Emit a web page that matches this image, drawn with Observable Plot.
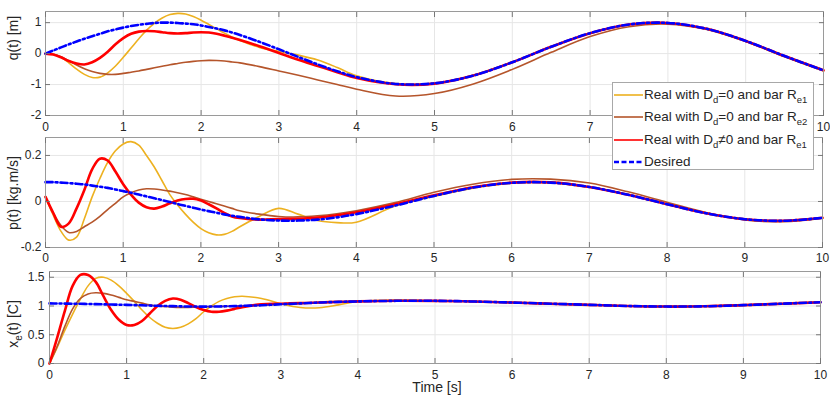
<!DOCTYPE html>
<html><head><meta charset="utf-8">
<script src="https://cdn.jsdelivr.net/npm/d3@7"></script>
<script src="https://cdn.jsdelivr.net/npm/@observablehq/plot@0.6"></script>
<style>
body{margin:0;background:#fff;font-family:"Liberation Sans",Arial,sans-serif;}
#wrap{position:relative;width:830px;height:395px;overflow:hidden;}
#wrap svg{display:block;}
.legend{position:absolute;left:612px;top:82px;width:200px;height:86px;border:1px solid #a8a8a8;background:#fff;font-size:13.5px;color:#262626;}
.row{position:absolute;left:0;height:22px;line-height:22px;white-space:nowrap;}
.row svg{position:absolute;left:1px;top:9px;}
.row span.t{position:absolute;left:31px;top:0;}
.row sub{font-size:9.5px;vertical-align:-4px;line-height:0;}
</style>
</head><body>
<div id="wrap"></div>
<script>
// time samples [s]
const t = [0,0.1,0.2,0.3,0.4,0.5,0.6,0.7,0.8,0.9,1.0,1.1,1.2,1.3,1.4,1.5,1.6,1.7,1.8,1.9,2.0,2.1,2.2,2.3,2.4,2.5,2.75,3,3.25,3.5,3.75,4,4.5,5,5.5,6,6.5,7,7.5,8,8.5,9,9.5,10];

// q(t) [m]
const qYellow = [0,-0.02,-0.12,-0.3,-0.5,-0.67,-0.77,-0.76,-0.62,-0.4,-0.12,0.18,0.48,0.76,0.98,1.15,1.26,1.3,1.28,1.2,1.08,0.94,0.8,0.66,0.53,0.42,0.2,0.07,-0.05,-0.21,-0.45,-0.72,-0.97,-0.96,-0.7,-0.27,0.22,0.66,0.94,0.99,0.8,0.41,-0.08,-0.54];
const qBrown = [0,-0.02,-0.1,-0.23,-0.37,-0.49,-0.58,-0.64,-0.67,-0.67,-0.64,-0.6,-0.56,-0.51,-0.46,-0.41,-0.36,-0.32,-0.28,-0.25,-0.23,-0.22,-0.225,-0.24,-0.27,-0.3,-0.42,-0.56,-0.7,-0.85,-1.0,-1.15,-1.37,-1.29,-0.98,-0.51,0.04,0.55,0.87,0.95,0.78,0.39,-0.1,-0.56];
const qRed = [0,-0.03,-0.12,-0.24,-0.32,-0.35,-0.28,-0.14,0.06,0.3,0.5,0.64,0.71,0.73,0.72,0.69,0.66,0.65,0.66,0.68,0.69,0.68,0.64,0.58,0.51,0.44,0.24,0.02,-0.2,-0.4,-0.6,-0.79,-0.99,-0.97,-0.71,-0.28,0.22,0.66,0.94,0.99,0.8,0.41,-0.08,-0.54];
const qDesired = [0,0.10,0.20,0.30,0.39,0.48,0.56,0.64,0.72,0.78,0.84,0.89,0.93,0.96,0.99,1.0,1.0,0.99,0.97,0.95,0.91,0.86,0.81,0.75,0.68,0.60,0.38,0.14,-0.11,-0.35,-0.57,-0.76,-0.98,-0.96,-0.71,-0.28,0.22,0.66,0.94,0.99,0.80,0.41,-0.08,-0.54];

// p(t) [kg.m/s]
const pYellow = [0.02,-0.06,-0.13,-0.168,-0.155,-0.075,0.02,0.1,0.17,0.22,0.25,0.26,0.245,0.2,0.15,0.09,0.03,-0.015,-0.055,-0.09,-0.118,-0.136,-0.145,-0.143,-0.13,-0.11,-0.065,-0.03,-0.055,-0.083,-0.092,-0.09,-0.02,0.022,0.058,0.079,0.081,0.062,0.029,-0.012,-0.051,-0.077,-0.084,-0.071];
const pBrown = [0.02,-0.05,-0.105,-0.135,-0.13,-0.11,-0.09,-0.065,-0.035,-0.008,0.02,0.038,0.05,0.055,0.054,0.05,0.045,0.038,0.03,0.02,0.01,0.0,-0.01,-0.02,-0.03,-0.04,-0.055,-0.065,-0.067,-0.062,-0.053,-0.04,-0.005,0.04,0.075,0.096,0.097,0.08,0.042,-0.003,-0.048,-0.08,-0.088,-0.073];
const pRed = [0.02,-0.05,-0.11,-0.095,-0.03,0.05,0.14,0.186,0.178,0.13,0.075,0.03,-0.005,-0.025,-0.031,-0.022,-0.008,0.004,0.011,0.012,0.004,-0.012,-0.03,-0.05,-0.065,-0.072,-0.079,-0.076,-0.075,-0.07,-0.06,-0.047,-0.012,0.027,0.062,0.082,0.083,0.063,0.029,-0.012,-0.051,-0.077,-0.084,-0.071];
const pDesired = [0.084,0.084,0.082,0.080,0.077,0.074,0.069,0.064,0.059,0.052,0.045,0.038,0.030,0.022,0.014,0.006,-0.002,-0.011,-0.019,-0.027,-0.035,-0.042,-0.049,-0.056,-0.062,-0.067,-0.078,-0.083,-0.083,-0.079,-0.069,-0.055,-0.018,0.024,0.060,0.081,0.082,0.063,0.029,-0.012,-0.051,-0.077,-0.084,-0.071];

// x_e(t) [C]
const xYellow = [0,0.28,0.58,0.86,1.12,1.35,1.48,1.5,1.45,1.35,1.22,1.08,0.93,0.8,0.7,0.63,0.61,0.63,0.69,0.78,0.9,1.0,1.08,1.13,1.16,1.17,1.13,1.04,0.975,0.97,1.02,1.08,1.105,1.09,1.078,1.06,1.04,1.02,1.0,0.99,0.995,1.015,1.04,1.065];
const xBrown = [0,0.3,0.65,0.95,1.13,1.21,1.23,1.22,1.19,1.15,1.11,1.08,1.05,1.02,1.0,0.99,0.98,0.975,0.975,0.98,0.985,0.99,0.992,0.995,0.998,1.0,1.013,1.03,1.045,1.06,1.072,1.08,1.09,1.09,1.078,1.06,1.04,1.02,1.0,0.99,0.995,1.015,1.04,1.065];
const xRed = [0,0.45,0.92,1.35,1.54,1.54,1.42,1.17,0.93,0.76,0.67,0.67,0.74,0.87,1.0,1.09,1.13,1.11,1.05,0.98,0.93,0.9,0.9,0.92,0.95,0.98,1.03,1.04,1.05,1.06,1.072,1.08,1.09,1.09,1.078,1.06,1.04,1.02,1.0,0.99,0.995,1.015,1.04,1.065];
const xDesired = [1.045,1.044,1.042,1.04,1.038,1.035,1.032,1.029,1.026,1.023,1.02,1.016,1.012,1.008,1.004,1.0,0.997,0.994,0.991,0.99,0.99,0.99,0.992,0.995,0.998,1.002,1.013,1.03,1.045,1.06,1.072,1.08,1.09,1.09,1.078,1.06,1.04,1.02,1.0,0.99,0.995,1.015,1.04,1.065];

const xTicks = [0,1,2,3,4,5,6,7,8,9,10];
const xTicksTopPanel = [0,1,2,3,4,5,6,7,10]; // 8 and 9 are hidden under the legend
const qTicks = [-2,-1,0,1];
const pTicks = [-0.2,0,0.2];
const xeTicks = [0,0.5,1,1.5];

const seriesColors = ["#EDB120","#B5552B","#FF0000","#0000FF"];
const seriesWidths = [1.6,1.6,2.6,2.6];
const legendHTML = [
  "Real with D<sub>d</sub>=0 and bar R<sub>e1</sub>",
  "Real with D<sub>d</sub>=0 and bar R<sub>e2</sub>",
  "Real with D<sub>d</sub>&#8800;0 and bar R<sub>e1</sub>",
  "Desired"
];
const dash = "7,3,2,3";

function rows(arr){ return t.map((tt,i)=>({t:tt, v:arr[i]})); }

function panel(series, yDomain, yTicks, xLabelTicks, m){
  const fmt = d => String(d);
  const marks = [
    Plot.gridX(xTicks, {stroke:"#e6e6e6", strokeOpacity:1}),
    Plot.gridY(yTicks, {stroke:"#e6e6e6", strokeOpacity:1}),
  ];
  series.forEach((s,i)=>{
    marks.push(Plot.line(rows(s), {x:"t", y:"v", stroke:seriesColors[i], strokeWidth:seriesWidths[i], curve:"catmull-rom",
      strokeDasharray: i===3 ? dash : null}));
  });
  marks.push(
    Plot.frame({stroke:"#9a9a9a"}),
    Plot.axisX(xLabelTicks, {tickSize:0, tickPadding:m.xPad, tickFormat:fmt, label:null, fill:"#262626"}),
    Plot.axisX(xTicks, {tickSize:5, dy:-5, fill:"none", stroke:"#777", label:null}),
    Plot.axisX(xTicks, {anchor:"top", tickSize:5, dy:5, fill:"none", stroke:"#777", label:null}),
    Plot.axisY(yTicks, {tickSize:0, tickPadding:m.yPad, tickFormat:fmt, label:null, fill:"#262626"}),
    Plot.axisY(yTicks, {tickSize:5, dx:5, fill:"none", stroke:"#777", label:null}),
    Plot.axisY(yTicks, {anchor:"right", tickSize:5, dx:-5, fill:"none", stroke:"#777", label:null})
  );
  return Plot.plot({
    width:830, height:m.height,
    marginTop:m.top, marginBottom:m.bottom, marginLeft:m.left, marginRight:m.right,
    x:{domain:[0,10]}, y:{domain:yDomain},
    style:{fontFamily:"'Liberation Sans', Arial, sans-serif", fontSize:"12px", color:"#262626", background:"white", overflow:"visible"},
    marks
  });
}

const wrap = document.getElementById("wrap");
const p1 = panel([qYellow,qBrown,qRed,qDesired], [-2,1.36], qTicks, xTicksTopPanel, {height:131, top:11, bottom:16, left:45, right:7, xPad:6.5, yPad:4});
const p2 = panel([pYellow,pBrown,pRed,pDesired], [-0.2,0.278], pTicks, xTicks, {height:132, top:6, bottom:16, left:45, right:8, xPad:6, yPad:4});
const p3 = panel([xYellow,xBrown,xRed,xDesired], [0,1.6], xeTicks, xTicks, {height:132, top:8, bottom:32, left:49, right:10, xPad:6.5, yPad:5});
wrap.append(p1, p2, p3);

function ylabel(svg, x, y, parts){
  const tx = d3.select(svg).append("text")
    .attr("transform", `translate(${x},${y}) rotate(-90)`)
    .attr("text-anchor","middle").attr("fill","#262626")
    .style("font-size","14px").style("font-family","'Liberation Sans', Arial, sans-serif");
  parts.forEach(([s,sub])=>{
    const ts = tx.append("tspan").text(s);
    if (sub) ts.attr("font-size","10px").attr("dy","4");
    else ts.attr("dy", tx.selectAll("tspan").size()>1 ? "-4" : "0");
  });
}
ylabel(p1, 18, 38, [["q(t) [m]",false]]);
ylabel(p2, 18, 62, [["p(t) [kg.m/s]",false]]);
ylabel(p3, 18, 61, [["x",false],["e",true],["(t) [C]",false]]);
d3.select(p3).append("text").attr("x",437).attr("y",129).attr("text-anchor","middle")
  .attr("fill","#262626").style("font-size","14px").style("font-family","'Liberation Sans', Arial, sans-serif")
  .text("Time [s]");

// legend
const lg = document.createElement("div");
lg.className = "legend";
legendHTML.forEach((h,i)=>{
  const r = document.createElement("div");
  r.className = "row";
  r.style.top = (0.5 + i*22.5) + "px";
  r.innerHTML = `<svg width="29" height="4"><line x1="0" y1="2" x2="29" y2="2" stroke="${seriesColors[i]}" stroke-width="${i===3?2.4:1.6}" ${i===3?'stroke-dasharray="5,2.5"':''}/></svg><span class="t">${h}</span>`;
  lg.appendChild(r);
});
wrap.appendChild(lg);
</script>
</body></html>
